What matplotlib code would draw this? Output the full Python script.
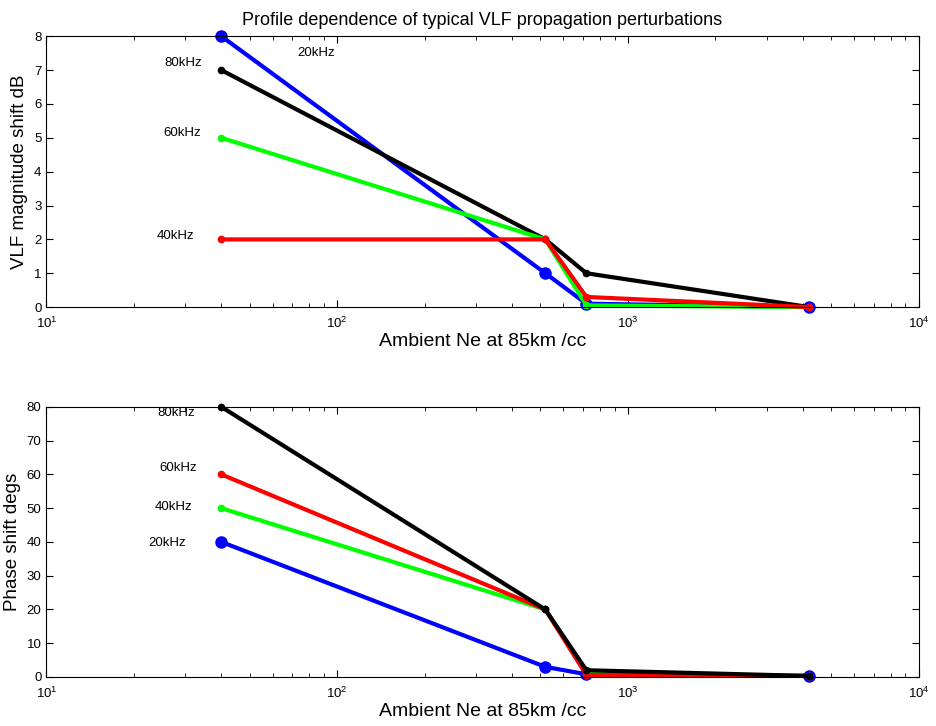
import numpy as np
import matplotlib
matplotlib.use('Agg')
import matplotlib.pyplot as plt

plt.rcParams['font.family'] = ['Liberation Sans', 'DejaVu Sans']
plt.rcParams['mathtext.fontset'] = 'custom'
plt.rcParams['mathtext.rm'] = 'Liberation Sans'

# ambient electron density at 85 km (/cc)
ne = [40, 520, 720, 4200]

# amplitude shift dB
amp_20 = [8, 1, 0.1, 0]
amp_40 = [2, 2, 0.3, 0]
amp_60 = [5, 2, 0.05, 0]
amp_80 = [7, 2, 1, 0]

# phase shift degs
ph_20 = [40, 3, 0.8, 0.3]
ph_40 = [50, 20, 1, 0.3]
ph_60 = [60, 20, 0.6, 0.3]
ph_80 = [80, 20, 2, 0.3]

amp_lab = [('20kHz', 73, 7.52), ('80kHz', 25.5, 7.2), ('60kHz', 25.2, 5.13), ('40kHz', 24.0, 2.09)]
ph_lab = [('80kHz', 24.0, 78.2), ('60kHz', 24.5, 61.9), ('40kHz', 23.6, 50.4), ('20kHz', 22.5, 39.7)]

fig = plt.figure(figsize=(9.36, 7.26), dpi=100)
ax1 = fig.add_axes([0.0495, 0.577, 0.932, 0.373])
ax2 = fig.add_axes([0.0495, 0.0675, 0.932, 0.372])

def style(ax):
    ax.set_xscale('log')
    ax.set_xlim(10, 1e4)
    ax.tick_params(which='both', direction='in', top=True, right=True, labelsize=9.5)
    ax.tick_params(which='major', length=5)
    ax.tick_params(which='minor', length=3)
    ax.tick_params(axis='x', pad=6)
    ax.set_xlabel('Ambient Ne at 85km /cc', fontsize=14, labelpad=2)

lw = 3
ax1.plot(ne, amp_20, '-o', color='b', lw=lw, ms=8)
ax1.plot(ne, amp_80, '-o', color='k', lw=lw, ms=4.5)
ax1.plot(ne, amp_60, '-o', color='lime', lw=lw, ms=4.5)
ax1.plot(ne, amp_40, '-o', color='r', lw=lw, ms=4.5)
style(ax1)
ax1.set_ylim(0, 8)
ax1.set_yticks(np.arange(0, 9, 1))
ax1.set_ylabel('VLF magnitude shift dB', fontsize=13.5, labelpad=4)
ax1.set_title('Profile dependence of typical VLF propagation perturbations', fontsize=13, pad=8)
for t, x, y in amp_lab:
    ax1.text(x, y, t, fontsize=9.5, va='center', ha='left')

ax2.plot(ne, ph_20, '-o', color='b', lw=lw, ms=8)
ax2.plot(ne, ph_40, '-o', color='lime', lw=lw, ms=4.5)
ax2.plot(ne, ph_60, '-o', color='r', lw=lw, ms=4.5)
ax2.plot(ne, ph_80, '-o', color='k', lw=lw, ms=4.5)
style(ax2)
ax2.set_ylim(0, 80)
ax2.set_yticks(np.arange(0, 81, 10))
ax2.set_ylabel('Phase shift degs', fontsize=13.5, labelpad=4)
for t, x, y in ph_lab:
    ax2.text(x, y, t, fontsize=9.5, va='center', ha='left')

for ax in (ax1, ax2):
    for l in ax.lines:
        l.set_clip_on(False)

plt.savefig('out.png', dpi=100)
